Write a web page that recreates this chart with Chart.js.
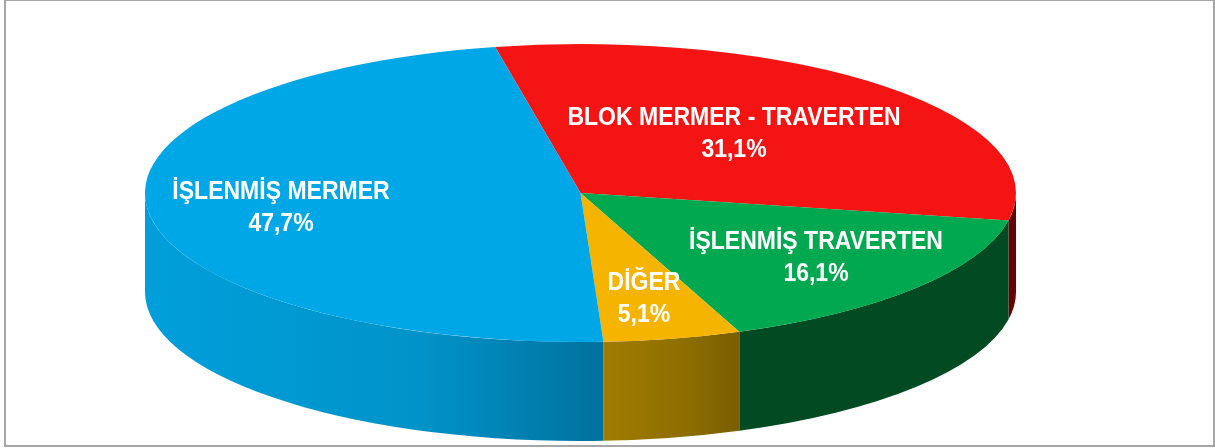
<!DOCTYPE html>
<html lang="tr">
<head>
<meta charset="utf-8">
<title>Pasta grafik</title>
<script src="https://cdn.jsdelivr.net/npm/chart.js@4"></script>
<style>
  html, body { margin:0; padding:0; background:#fff; }
  #wrap { position:relative; width:1215px; height:448px; overflow:hidden; }
  #frame { position:absolute; left:4px; top:-1px; width:1211px; height:448px; box-sizing:border-box; border:2px solid #a6a6a6; pointer-events:none; }
  canvas { display:block; }
</style>
</head>
<body>
<div id="wrap">
  <canvas id="pie" width="1215" height="448"></canvas>
  <div id="frame"></div>
</div>
<script>
/* ===== data ===== */
const categories = ["BLOK MERMER - TRAVERTEN", "İŞLENMİŞ TRAVERTEN", "DİĞER", "İŞLENMİŞ MERMER"];
const shares = [31.1, 16.1, 5.1, 47.7];

/* ===== styles ===== */
const topColors = ["#F41414", "#00A84F", "#F4B400", "#00A7E6"];
const wallColors = [
  ["#640404", "#640404", "#640404"],
  ["#014A22", "#014A22", "#014A22"],
  ["#A07C00", "#8E6E00", "#7A5E00"],
  ["#009FDB", "#0093C9", "#00729E"]
];
// text centre and first baseline of every label, page pixels
const labelAnchors = [[734, 125], [816, 249], [644, 290], [281, 199]];

const pieCx = 580.5, pieCy = 193, pieRx = 435.5, pieRy = 149, pieDepth = 99;

/* ===== draws the side wall under the flattened pie ===== */
const tiltPlugin = {
  id: "tilt",
  beforeDatasetsDraw(chart) {
    const ctx = chart.ctx;
    const arcs = chart.getDatasetMeta(0).data;

    arcs.forEach((arc, i) => {
      const p = arc.getProps(["startAngle", "endAngle"], true);
      // only the front half of the rim shows
      const from = Math.max(p.startAngle, 0);
      const to = Math.min(p.endAngle, Math.PI);
      if (to <= from) return;

      const x1 = pieCx + pieRx * Math.cos(to);
      const x2 = pieCx + pieRx * Math.cos(from);
      const grad = ctx.createLinearGradient(x1, 0, x2, 0);
      grad.addColorStop(0, wallColors[i][0]);
      grad.addColorStop(0.6, wallColors[i][1]);
      grad.addColorStop(1, wallColors[i][2]);

      ctx.beginPath();
      ctx.ellipse(pieCx, pieCy, pieRx, pieRy, 0, from, to);
      ctx.ellipse(pieCx, pieCy + pieDepth, pieRx, pieRy, 0, to, from, true);
      ctx.closePath();
      ctx.fillStyle = grad;
      ctx.fill();
    });

    const first = arcs[0];
    const r = first.outerRadius;
    ctx.save();
    ctx.translate(pieCx, pieCy);
    ctx.scale(pieRx / r, pieRy / r);
    ctx.translate(-first.x, -first.y);
  },
  afterDatasetsDraw(chart) {
    chart.ctx.restore();
  }
};

/* ===== labels, squeezed sideways to look like a narrow face ===== */
const textSqueeze = 0.885;

const labelPlugin = {
  id: "sliceLabels",
  afterDraw(chart) {
    const ctx = chart.ctx;
    ctx.save();
    ctx.fillStyle = "#fff";
    ctx.textAlign = "center";
    ctx.textBaseline = "alphabetic";
    ctx.font = "bold 26px 'Liberation Sans', sans-serif";
    categories.forEach((name, i) => {
      const [x, y] = labelAnchors[i];
      ctx.save();
      ctx.translate(x, y);
      ctx.scale(textSqueeze, 1);
      ctx.fillText(name, 0, 0);
      ctx.fillText(shares[i].toFixed(1).replace(".", ",") + "%", 0, 32);
      ctx.restore();
    });
    ctx.restore();
  }
};

new Chart(document.getElementById("pie"), {
  type: "pie",
  data: {
    labels: categories,
    datasets: [{
      data: shares,
      backgroundColor: topColors,
      borderWidth: 0,
      clip: false
    }]
  },
  options: {
    responsive: false,
    animation: false,
    rotation: -11.3,
    layout: { padding: 0 },
    plugins: {
      legend: { display: false },
      tooltip: { enabled: false }
    }
  },
  plugins: [tiltPlugin, labelPlugin]
});
</script>
</body>
</html>
